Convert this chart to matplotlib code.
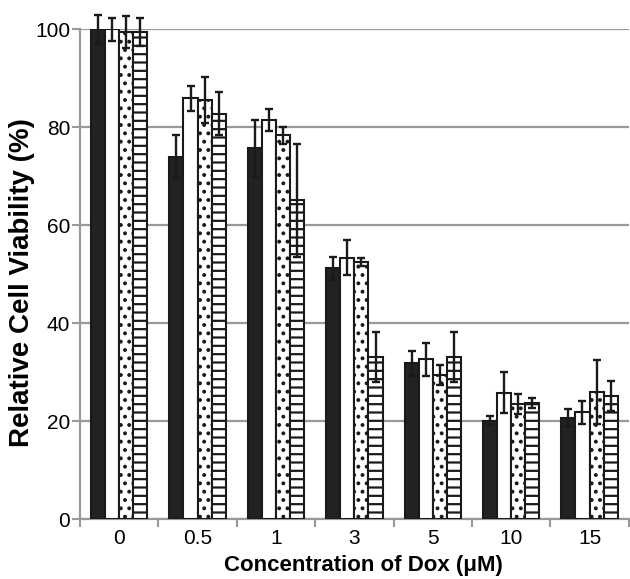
import numpy as np
from matplotlib import pyplot as plt

plt.rcParams['font.family'] = ['Liberation Sans', 'DejaVu Sans']
plt.rcParams['hatch.color'] = '#1a1a1a'
plt.rcParams['hatch.linewidth'] = 1.6

concentrations = ['0', '0.5', '1', '3', '5', '10', '15']

black_vals = [100, 74.0, 75.7, 51.2, 31.8, 20.1, 20.6]
black_err = [3.0, 4.4, 5.8, 2.4, 2.6, 0.9, 1.8]
white_vals = [100, 85.9, 81.5, 53.4, 32.6, 25.8, 21.8]
white_err = [2.3, 2.6, 2.2, 3.6, 3.3, 4.2, 2.3]
dot_vals = [99.5, 85.6, 78.4, 52.5, 29.4, 23.5, 25.9]
dot_err = [3.2, 4.7, 1.7, 0.8, 2.0, 2.0, 6.5]
hatch_vals = [99.5, 82.8, 65.1, 33.0, 33.0, 23.7, 25.1]
hatch_err = [2.8, 4.4, 11.5, 5.1, 5.1, 1.0, 3.1]

fig = plt.figure(figsize=(6.3, 5.79), dpi=100)
ax = fig.add_axes([0.127, 0.1036, 0.871, 0.8455])

x = np.arange(len(concentrations))
w = 0.18
series = [
    (black_vals, black_err, '#222222', ''),
    (white_vals, white_err, 'white', ''),
    (dot_vals, dot_err, 'white', '..'),
    (hatch_vals, hatch_err, 'white', '--'),
]
for i, (vals, err, color, hatch) in enumerate(series):
    pos = x + (i - 1.5) * w
    ax.bar(pos, vals, w, color=color, edgecolor='#1a1a1a', linewidth=1.5,
           hatch=hatch, zorder=3)
    ax.errorbar(pos, vals, yerr=err, fmt='none', ecolor='#1a1a1a',
                elinewidth=1.7, capsize=2.6, capthick=1.7, zorder=4,
                clip_on=False)

ax.set_ylim(0, 100)
ax.set_xlim(-0.5, 6.5)
ax.set_yticks([0, 20, 40, 60, 80, 100])
ax.yaxis.grid(True, color='#999999', linewidth=1.6, zorder=0)
ax.set_axisbelow(True)

ax.set_xticks(np.arange(-0.5, 7.0, 1.0))
ax.set_xticklabels([])
ax.set_xticks(x, minor=True)
ax.set_xticklabels(concentrations, minor=True)
ax.tick_params(axis='x', which='minor', length=0, pad=7, labelsize=15)
ax.tick_params(axis='x', which='major', length=6, width=1.5, color='#999999')
ax.tick_params(axis='y', length=6, width=1.5, color='#999999', labelsize=15, pad=1)

for s in ['top', 'right']:
    ax.spines[s].set_visible(False)
for s in ['left', 'bottom']:
    ax.spines[s].set_color('#999999')
    ax.spines[s].set_linewidth(1.6)

ax.set_xlabel('Concentration of Dox (μM)', fontsize=16, fontweight='bold')
ax.set_ylabel('Relative Cell Viability (%)', fontsize=20, fontweight='bold')
ax.xaxis.label.set_va('center')
ax.yaxis.label.set_va('center')
ax.xaxis.set_label_coords(0.516, -0.094)
ax.yaxis.set_label_coords(-0.106, 0.484)

plt.savefig('out.png', dpi=100)
